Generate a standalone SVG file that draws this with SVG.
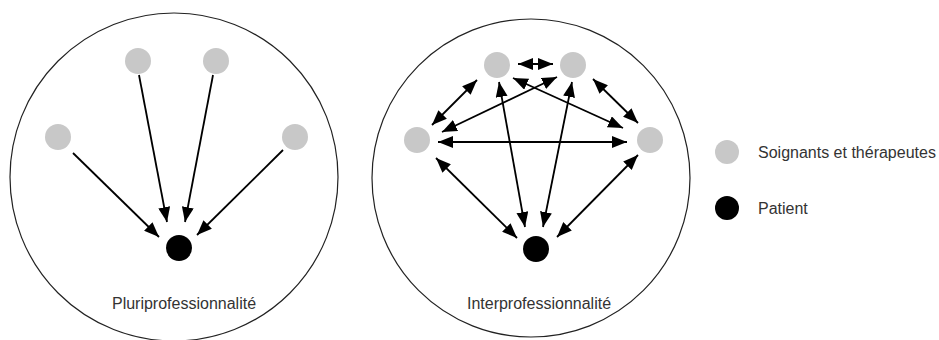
<svg xmlns="http://www.w3.org/2000/svg" width="939" height="340" viewBox="0 0 939 340">
<defs>
<marker id="ah" markerUnits="userSpaceOnUse" markerWidth="15" markerHeight="12" refX="15" refY="6" orient="auto-start-reverse" viewBox="0 0 15 12">
<path d="M0,0 L15,6 L0,12 z" fill="#000"/>
</marker>
</defs>
<style>
.frame{fill:none;stroke:#222;stroke-width:1.2}
.pro{fill:#c8c8c8}
.pat{fill:#000}
.one{stroke:#000;stroke-width:1.8;fill:none;marker-end:url(#ah)}
.two{stroke:#000;stroke-width:1.8;fill:none;marker-end:url(#ah);marker-start:url(#ah)}
.lbl{font-family:"Liberation Sans",Arial,sans-serif;font-size:16px;fill:#333}
</style>
<rect width="939" height="340" fill="#fff"/>

<g id="pluri">
<circle class="frame" cx="174" cy="177" r="164"/>
<text class="lbl" x="184" y="309" text-anchor="middle" fill="#1a1a33">Pluriprofessionnalité</text>
</g>
<g id="p1"><circle class="pro" cx="58" cy="137" r="13"/></g>
<g id="p2"><circle class="pro" cx="138" cy="61" r="13"/></g>
<g id="p3"><circle class="pro" cx="216" cy="61" r="13"/></g>
<g id="p4"><circle class="pro" cx="295" cy="137" r="13"/></g>
<g id="patient1"><circle class="pat" cx="179" cy="248" r="13"/></g>

<g id="inter">
<circle class="frame" cx="531" cy="178" r="159"/>
<text class="lbl" x="539" y="309" text-anchor="middle" fill="#444">Interprofessionnalité</text>
</g>
<g id="i1"><circle class="pro" cx="417" cy="140" r="13"/></g>
<g id="i2"><circle class="pro" cx="497" cy="65" r="13"/></g>
<g id="i3"><circle class="pro" cx="573" cy="65" r="13"/></g>
<g id="i4"><circle class="pro" cx="650" cy="140" r="13"/></g>
<g id="patient2"><circle class="pat" cx="536" cy="249" r="13"/></g>

<g id="connectors">
<line class="one" x1="73" y1="153" x2="159" y2="237"/>
<line class="one" x1="139" y1="75" x2="167" y2="222"/>
<line class="one" x1="213" y1="75" x2="185" y2="222"/>
<line class="one" x1="283" y1="150" x2="197" y2="235"/>

<line class="two" x1="518" y1="64" x2="553" y2="64"/>
<line class="two" x1="477" y1="80" x2="432" y2="125"/>
<line class="two" x1="593" y1="79" x2="638" y2="123"/>
<line class="two" x1="438" y1="142" x2="627" y2="142"/>
<line class="two" x1="513" y1="78" x2="623" y2="128"/>
<line class="two" x1="557" y1="77" x2="442" y2="132"/>
<line class="two" x1="499" y1="82" x2="525" y2="227"/>
<line class="two" x1="572" y1="82" x2="543" y2="227"/>
<line class="two" x1="436" y1="158" x2="517" y2="238"/>
<line class="two" x1="638" y1="155" x2="557" y2="237"/>
</g>

<g id="legend">
<circle class="pro" cx="727" cy="152" r="12"/>
<text class="lbl" x="758" y="158" fill="#444">Soignants et thérapeutes</text>
<circle class="pat" cx="727" cy="208" r="12"/>
<text class="lbl" x="758" y="214" fill="#444">Patient</text>
</g>
</svg>
